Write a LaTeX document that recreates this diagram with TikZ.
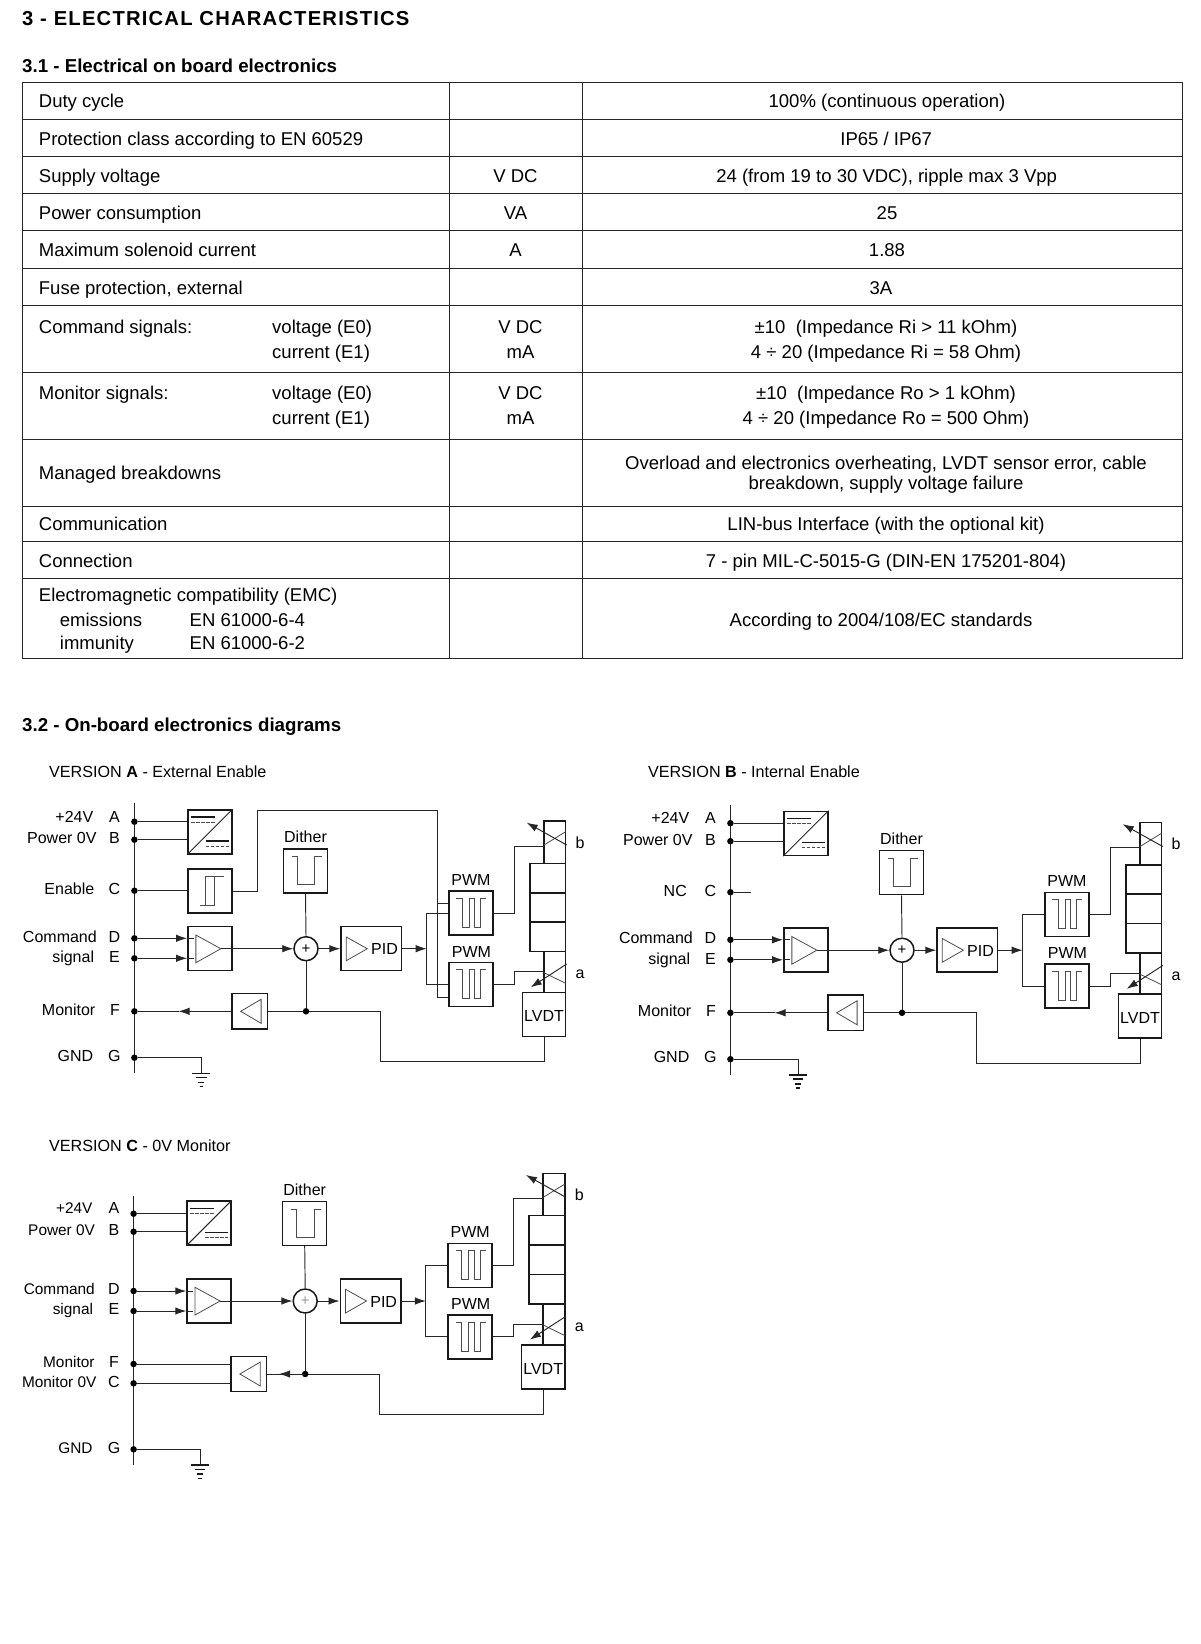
\documentclass[tikz,border=0pt]{standalone}
\usepackage{fontspec}
\setmainfont{Liberation Sans}
\usetikzlibrary{arrows.meta,calc}
\tikzset{
 rule/.style={line width=1pt,black!85},
 wire/.style={line width=.95pt,black!85},
 thinwire/.style={line width=.8pt,black!70},
 heavy/.style={line width=1.5pt,black!90},
 sigtip/.style={-{Latex[length=11pt,width=7.5pt]}},
 blockbox/.style={draw,heavy,minimum width=44pt,minimum height=44pt,inner sep=0pt},
 dotnode/.style={circle,fill=black,inner sep=0pt,minimum size=6.5pt},
 sumnode/.style={circle,draw,heavy,fill=white,inner sep=0pt,minimum size=24pt,font=\fontsize{15}{15}\selectfont},
 celltext/.style={inner sep=0pt,yshift=-.8pt,text height=13pt,text depth=0pt,font=\fontsize{18.52}{20}\selectfont},
 cellleft/.style={celltext,anchor=west},
 lbl/.style={inner sep=0pt,text height=11.5pt,text depth=0pt,font=\fontsize{16}{18}\selectfont},
 lblright/.style={lbl,anchor=east},
 vertitle/.style={lbl,anchor=west,font=\fontsize{16.15}{18}\selectfont},
 headbig/.style={anchor=west,inner sep=0pt,text height=14pt,text depth=0pt,font=\fontsize{20.2}{22}\selectfont\addfontfeatures{LetterSpace=6}\bfseries},
 headsub/.style={anchor=west,inner sep=0pt,text height=13pt,text depth=0pt,font=\fontsize{18.7}{20}\selectfont\bfseries},
}
\newcommand{\convsym}[1]{
 \draw[wire] (#1.south west) -- (#1.north east);
 \draw[heavy] ($(#1.center)+(-18.7,-14.7)$) -- ++(23.4,0);
 \draw[thinwire,dashed,dash pattern=on 3.5pt off 1.5pt] ($(#1.center)+(-18.7,-9.7)$) -- ++(23.4,0);
 \draw[heavy] ($(#1.center)+(-4,9.3)$) -- ++(23.4,0);
 \draw[thinwire,dashed,dash pattern=on 3.5pt off 1.5pt] ($(#1.center)+(-4,14.3)$) -- ++(23.4,0);
}
\newcommand{\pwmsym}[1]{
 \draw[thinwire] ($(#1.center)+(-14.7,-14.7)$) -- ++(6,0) -- ++(0,29) -- ++(6.7,0) -- ++(0,-29) -- ++(5.7,0) -- ++(0,29) -- ++(6,0) -- ++(0,-29) -- ++(5.6,0);
}
\newcommand{\gndsym}[1]{
 \draw[heavy] ($(#1)+(-9.2,0)$) -- ++(18.4,0);
 \draw[heavy] ($(#1)+(-5.4,4.4)$) -- ++(10.8,0);
 \draw[heavy] ($(#1)+(-3,9)$) -- ++(6,0);
 \draw[heavy] ($(#1)+(-1.6,13.4)$) -- ++(3.2,0);
}
\newcommand{\ctrlcore}[1]{
 \node[blockbox] (amp) at (209.85,948.7) {};
 \draw[thinwire] ($(amp.center)+(-14,-13.7)$) -- ++(25,13.7) -- ++(-25,14) -- cycle;
 \draw[wire,sigtip] (pinD) -- (pinD -| amp.west);
 \draw[wire] (pinD -| amp.west) -- ++(7,0);
 \draw[wire,sigtip] (pinE) -- (pinE -| amp.west);
 \draw[wire] (pinE -| amp.west) -- ++(7,0);
 \node[blockbox] (dith) at (305.5,871) {};
 \node[lbl] (dithtxt) at (305.5,837) {Dither};
 \draw[thinwire] ($(dith.center)+(-14,-14.3)$) -- ++(5.7,0) -- ++(0,28) -- ++(17.6,0) -- ++(0,-28) -- ++(7.4,0);
 \node[sumnode,text=#1] (sum) at (306,948.7) {+};
 \node[blockbox,minimum width=60.5pt] (pid) at (371.3,948.7) {};
 \node[lbl] (pidtxt) at (384.5,949.2) {PID};
 \draw[thinwire] ($(pid.center)+(-25,-11.7)$) -- ++(21,11.7) -- ++(-21,12) -- cycle;
 \node[blockbox] (pwmup) at (471,913) {};
 \node[blockbox] (pwmlo) at (471,984.5) {};
 \node[lbl] (pwmuptxt) at (471,879.3) {PWM};
 \node[lbl] (pwmlotxt) at (471.5,951.5) {PWM};
 \pwmsym{pwmup}
 \pwmsym{pwmlo}
 \node[draw,heavy,minimum width=21.7pt,minimum height=42.3pt,inner sep=0pt] (tubeb) at (554.85,842.15) {};
 \node[draw,heavy,minimum width=21.7pt,minimum height=41pt,inner sep=0pt] (tubea) at (554.85,972.2) {};
 \node[draw,heavy,minimum width=35.7pt,minimum height=29.5pt,inner sep=0pt] (coilx) at (547.85,878) {};
 \node[draw,heavy,minimum width=35.7pt,minimum height=29.5pt,inner sep=0pt] (coily) at (547.85,907.3) {};
 \node[draw,heavy,minimum width=35.7pt,minimum height=29.5pt,inner sep=0pt] (coilz) at (547.85,936.9) {};
 \node[blockbox,minimum width=43.4pt] (lvdt) at (544,1014.7) {};
 \node[lbl] (lvdttxt) at (544,1016) {LVDT};
 \node[lbl] (letb) at (580,842.7) {b};
 \node[lbl] (leta) at (580,973) {a};
 \draw[thinwire] (544,845) -- (565.7,831.7);
 \draw[wire,sigtip] (566.7,845) -- (526.7,822.7);
 \draw[thinwire] (544,972.7) -- (565.7,983.3);
 \draw[wire,sigtip] (566.7,964) -- (530.7,987.3);
 \coordinate (split) at (426.7,948.7);
 \coordinate (bend) at (514,912.7);
 \coordinate (coilb) at (544,846);
 \coordinate (coila) at (544,971.7);
 \coordinate (retx) at (380,1061.7);
 \draw[wire] ($(amp.center)+(11,0)$) -- ++(1,0);
 \draw[wire,sigtip] ($(amp.center)+(11,0)$) -- (sum.west);
 \draw[wire,sigtip] (sum.east) -- (pid.west);
 \draw[wire,sigtip] (pid.east) -- (split);
 \draw[wire] (dith.south) -- (sum.north);
 \draw[wire] (sum.south) -- (mondot);
 \draw[wire] (pwmup.west) -- (split |- pwmup.west) -- (split |- pwmlo.west) -- (pwmlo.west);
 \draw[wire] (pwmup.east) -- (bend |- pwmup.east) -- (bend |- coilb) -- (coilb);
 \draw[wire] (pwmlo.east) -- (bend |- pwmlo.east) -- (bend |- coila) -- (coila);
 \node[blockbox,minimum width=35.4pt,minimum height=35.3pt] (mon) at (mondot -| 249.6,0) {};
 \draw[thinwire] ($(mon.center)+(-8.9,0)$) -- ++(20.4,-12) -- ++(0,24) -- cycle;
 \draw[wire] (mon.east) -- (mondot);
 \draw[wire] (mondot) -- (retx |- mondot) -- (retx) -- (retx -| lvdt.south) -- (lvdt.south);
 \node[dotnode] (monpt) at (mondot) {};
}
\begin{document}
\begin{tikzpicture}[x=1pt,y=-1pt]
 \useasboundingbox (0,0) rectangle (1200,1644);
 \node[headbig] (title) at (22,18.6) {3 - ELECTRICAL CHARACTERISTICS};
 \node[headsub] (subone) at (22,65.6) {3.1 - Electrical on board electronics};
 \node[headsub] (subtwo) at (22,724.6) {3.2 - On-board electronics diagrams};
 \draw[rule] (22,82) rectangle (1182,658.4);
 \draw[rule] (449.8,82) -- (449.8,658.4);
 \draw[rule] (582,82) -- (582,658.4);
 \draw[rule] (22,119.3) -- (1182,119.3);
 \draw[rule] (22,156.4) -- (1182,156.4);
 \draw[rule] (22,193.7) -- (1182,193.7);
 \draw[rule] (22,230.8) -- (1182,230.8);
 \draw[rule] (22,268) -- (1182,268);
 \draw[rule] (22,305) -- (1182,305);
 \draw[rule] (22,372) -- (1182,372);
 \draw[rule] (22,439) -- (1182,439);
 \draw[rule] (22,506) -- (1182,506);
 \draw[rule] (22,541.6) -- (1182,541.6);
 \draw[rule] (22,578.4) -- (1182,578.4);
 \node[cellleft] (duty) at (38.7,100.5) {Duty cycle};
 \node[cellleft] (prot) at (38.7,138.2) {Protection class according to EN 60529};
 \node[cellleft] (supply) at (38.7,174.8) {Supply voltage};
 \node[cellleft] (power) at (38.7,212) {Power consumption};
 \node[cellleft] (solen) at (38.7,249.2) {Maximum solenoid current};
 \node[cellleft] (fuse) at (38.7,286.8) {Fuse protection, external};
 \node[cellleft] (cmd) at (38.7,326.6) {Command signals:};
 \node[cellleft] (cmdv) at (272,326.6) {voltage (E0)};
 \node[cellleft] (cmdc) at (272,350.7) {current (E1)};
 \node[cellleft] (moni) at (38.7,392.6) {Monitor signals:};
 \node[cellleft] (moniv) at (272,392.6) {voltage (E0)};
 \node[cellleft] (monic) at (272,416.7) {current (E1)};
 \node[cellleft] (manag) at (38.7,472) {Managed breakdowns};
 \node[cellleft] (comm) at (38.7,523.4) {Communication};
 \node[cellleft] (conn) at (38.7,560) {Connection};
 \node[cellleft] (emc) at (38.7,594.6) {Electromagnetic compatibility (EMC)};
 \node[cellleft] (emis) at (59.7,618.7) {emissions};
 \node[cellleft] (emisn) at (189.5,618.7) {EN 61000-6-4};
 \node[cellleft] (immu) at (59.7,641.8) {immunity};
 \node[cellleft] (immun) at (189.5,641.8) {EN 61000-6-2};
 \node[celltext] (usupply) at (515.5,174.8) {V DC};
 \node[celltext] (upower) at (515.5,212) {VA};
 \node[celltext] (usolen) at (515.5,249.2) {A};
 \node[celltext] (ucmdv) at (520.5,326.6) {V DC};
 \node[celltext] (ucmdc) at (520.5,350.7) {mA};
 \node[celltext] (umoniv) at (520.5,392.6) {V DC};
 \node[celltext] (umonic) at (520.5,416.7) {mA};
 \node[celltext] (vduty) at (887,100.5) {100\% (continuous operation)};
 \node[celltext] (vprot) at (886.2,138.2) {IP65 / IP67};
 \node[celltext] (vsupply) at (886.7,174.8) {24 (from 19 to 30 VDC), ripple max 3 Vpp};
 \node[celltext] (vpower) at (887,212) {25};
 \node[celltext] (vsolen) at (887,249.2) {1.88};
 \node[celltext] (vfuse) at (881,286.8) {3A};
 \node[celltext] (vcmdv) at (886,326.6) {±10\ \ (Impedance Ri > 11 kOhm)};
 \node[celltext] (vcmdc) at (886,350.7) {4 ÷ 20 (Impedance Ri = 58 Ohm)};
 \node[celltext] (vmoniv) at (886,392.6) {±10\ \ (Impedance Ro > 1 kOhm)};
 \node[celltext] (vmonic) at (886,416.7) {4 ÷ 20 (Impedance Ro = 500 Ohm)};
 \node[celltext] (vmana) at (886,461.7) {Overload and electronics overheating, LVDT sensor error, cable};
 \node[celltext] (vmanb) at (886,482.6) {breakdown, supply voltage failure};
 \node[celltext] (vcomm) at (886,523.4) {LIN-bus Interface (with the optional kit)};
 \node[celltext] (vconn) at (886,560) {7 - pin MIL-C-5015-G (DIN-EN 175201-804)};
 \node[celltext] (vemc) at (881,618.7) {According to 2004/108/EC standards};
 \begin{scope}[name prefix=A]
 \node[vertitle] (ver) at (49,772) {VERSION \textbf{A} - External Enable};
 \draw[wire] (134.4,803.3) -- (134.4,1073);
 \node[dotnode] (pinA) at (134.4,821.7) {};
 \node[dotnode] (pinB) at (134.4,839.7) {};
 \node[dotnode] (pinC) at (134.4,890.7) {};
 \node[dotnode] (pinD) at (134.4,938.3) {};
 \node[dotnode] (pinE) at (134.4,958.3) {};
 \node[dotnode] (pinF) at (134.4,1011.3) {};
 \node[dotnode] (pinG) at (134.4,1057.7) {};
 \node[lblright] (txtA) at (93.5,816.7) {+24V};
 \node[lbl] (letA) at (114.4,816.7) {A};
 \node[lblright] (txtB) at (96.7,838) {Power 0V};
 \node[lbl] (letB) at (114.4,838) {B};
 \node[lblright] (txtC) at (94.5,889) {Enable};
 \node[lbl] (letC) at (114.4,889) {C};
 \node[lblright] (txtD) at (97,936.7) {Command};
 \node[lbl] (letD) at (114.4,936.7) {D};
 \node[lblright] (txtE) at (94.3,957) {signal};
 \node[lbl] (letE) at (114.4,957) {E};
 \node[lblright] (txtF) at (95.5,1009.3) {Monitor};
 \node[lbl] (letF) at (115,1009.3) {F};
 \node[lblright] (txtG) at (93.5,1055.7) {GND};
 \node[lbl] (letG) at (114.4,1055.7) {G};
 \node[blockbox] (conv) at (209.85,831.85) {};
 \convsym{conv}
 \draw[wire] (pinA) -- (pinA -| conv.west);
 \draw[wire] (pinB) -- (pinB -| conv.west);
 \node[blockbox] (schm) at (209.85,891) {};
 \draw[thinwire] ($(schm.center)+(-10.3,14)$) -- ++(15.3,0) -- ++(0,-28.3);
 \draw[thinwire] ($(schm.center)+(-4.7,14)$) -- ++(0,-28.3) -- ++(18.4,0);
 \draw[wire] (pinC) -- (pinC -| schm.west);
 \coordinate (entop) at (257.3,810);
 \coordinate (enrun) at (437.7,810);
 \coordinate (entap) at (437.7,903);
 \coordinate (enlow) at (437.7,997);
 \draw[wire] (schm.east) -- (entop |- schm.east) -- (entop) -- (enrun) -- (enlow) -- (enlow -| 449,0);
 \draw[wire] (entap) -- (entap -| 449,0);
 \coordinate (mondot) at (306,1011.3);
 \ctrlcore{black}
 \draw[wire,sigtip] (mon.west) -- (178.5,1011.3);
 \draw[wire] (178.5,1011.3) -- (pinF);
 \coordinate (gndtop) at (201.2,1073.3);
 \draw[wire] (pinG) -- (gndtop |- pinG) -- (gndtop);
 \gndsym{gndtop}
 \end{scope}
 \begin{scope}[shift={(596,1.5)},name prefix=B]
 \node[vertitle] (ver) at (51.8,770.5) {VERSION \textbf{B} - Internal Enable};
 \draw[wire] (134.4,803.3) -- (134.4,1073);
 \node[dotnode] (pinA) at (134.4,821.7) {};
 \node[dotnode] (pinB) at (134.4,839.7) {};
 \node[dotnode] (pinC) at (134.4,890.7) {};
 \node[dotnode] (pinD) at (134.4,938.3) {};
 \node[dotnode] (pinE) at (134.4,958.3) {};
 \node[dotnode] (pinF) at (134.4,1011.3) {};
 \node[dotnode] (pinG) at (134.4,1057.7) {};
 \node[lblright] (txtA) at (93.5,816.7) {+24V};
 \node[lbl] (letA) at (114.4,816.7) {A};
 \node[lblright] (txtB) at (96.7,838) {Power 0V};
 \node[lbl] (letB) at (114.4,838) {B};
 \node[lblright] (txtC) at (91,889) {NC};
 \node[lbl] (letC) at (114.4,889) {C};
 \node[lblright] (txtD) at (97,936.7) {Command};
 \node[lbl] (letD) at (114.4,936.7) {D};
 \node[lblright] (txtE) at (94.3,957) {signal};
 \node[lbl] (letE) at (114.4,957) {E};
 \node[lblright] (txtF) at (95.5,1009.3) {Monitor};
 \node[lbl] (letF) at (115,1009.3) {F};
 \node[lblright] (txtG) at (93.5,1055.7) {GND};
 \node[lbl] (letG) at (114.4,1055.7) {G};
 \node[blockbox] (conv) at (209.85,831.85) {};
 \convsym{conv}
 \draw[wire] (pinA) -- (pinA -| conv.west);
 \draw[wire] (pinB) -- (pinB -| conv.west);
 \coordinate (ncend) at (154.5,890.7);
 \draw[wire] (pinC) -- (ncend);
 \coordinate (mondot) at (306,1011.3);
 \ctrlcore{black}
 \draw[wire,sigtip] (mon.west) -- (178.5,1011.3);
 \draw[wire] (178.5,1011.3) -- (pinF);
 \coordinate (gndtop) at (202,1073.3);
 \draw[wire] (pinG) -- (gndtop |- pinG) -- (gndtop);
 \gndsym{gndtop}
 \end{scope}
 \begin{scope}[shift={(-0.8,352.3)},name prefix=C,lblright/.append style={font=\fontsize{15.4}{18}\selectfont}]
 \node[vertitle] (ver) at (49.8,793.7) {VERSION \textbf{C} - 0V Monitor};
 \draw[wire] (134.4,843.4) -- (134.4,1112.7);
 \node[dotnode] (pinA) at (134.4,861.4) {};
 \node[dotnode] (pinB) at (134.4,879.4) {};
 \node[dotnode] (pinD) at (134.4,938.7) {};
 \node[dotnode] (pinE) at (134.4,958.7) {};
 \node[dotnode] (pinF) at (134.4,1011.7) {};
 \node[dotnode] (pinC) at (134.4,1031) {};
 \node[dotnode] (pinG) at (134.4,1097) {};
 \node[lblright] (txtA) at (93.5,855.7) {+24V};
 \node[lbl] (letA) at (114.8,855.7) {A};
 \node[lblright] (txtB) at (96,877.7) {Power 0V};
 \node[lbl] (letB) at (114.8,877.7) {B};
 \node[lblright] (txtD) at (95.8,936.7) {Command};
 \node[lbl] (letD) at (114.8,936.7) {D};
 \node[lblright] (txtE) at (94,956.7) {signal};
 \node[lbl] (letE) at (114.8,956.7) {E};
 \node[lblright] (txtF) at (95.5,1009.7) {Monitor};
 \node[lbl] (letF) at (114.8,1009.7) {F};
 \node[lblright] (txtC) at (97.5,1029.7) {Monitor 0V};
 \node[lbl] (letC) at (114.8,1029.7) {C};
 \node[lblright] (txtG) at (93.5,1095.4) {GND};
 \node[lbl] (letG) at (114.8,1095.4) {G};
 \node[blockbox] (conv) at (209.85,870.8) {};
 \convsym{conv}
 \draw[wire] (pinA) -- (pinA -| conv.west);
 \draw[wire] (pinB) -- (pinB -| conv.west);
 \coordinate (mondot) at (306,1021.7);
 \ctrlcore{black!40}
 \draw[wire] (pinF) -- (pinF -| mon.west);
 \draw[wire] (pinC) -- (pinC -| mon.west);
 \coordinate (montip) at (279.8,1021.7);
 \draw[wire,sigtip] (mondot) -- (montip);
 \coordinate (gndtop) at (200.8,1112.7);
 \draw[wire] (pinG) -- (gndtop |- pinG) -- (gndtop);
 \gndsym{gndtop}
 \end{scope}
\end{tikzpicture}
\end{document}
